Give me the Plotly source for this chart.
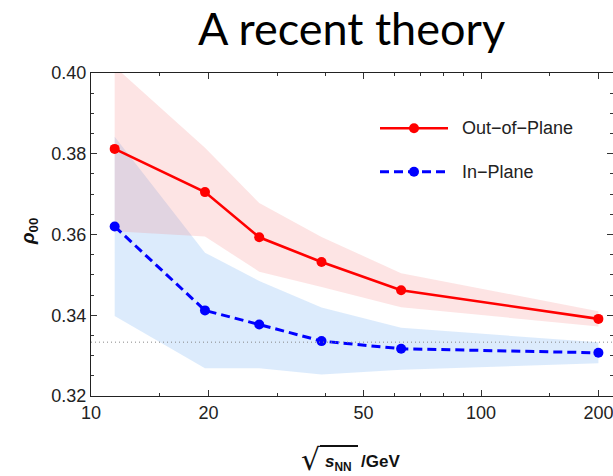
import plotly.graph_objects as go

# Collision energies (GeV)
energies = [11.5, 19.6, 27, 39, 62.4, 200]

# rho_00 predictions and band half-widths
out_of_plane = [0.3812, 0.3705, 0.3593, 0.3532, 0.3462, 0.3391]
out_of_plane_err = [0.0204, 0.0110, 0.0085, 0.0062, 0.0042, 0.0019]
in_plane = [0.3620, 0.3412, 0.3377, 0.3336, 0.3317, 0.3307]
in_plane_err = [0.0222, 0.0143, 0.0108, 0.0083, 0.0052, 0.0026]

x_tick_vals = [10, 20, 50, 100, 200]
x_tick_text = ["10", "20", "50", "100", "200"]
x_minor_vals = [15, 30, 40, 60, 70, 80, 90, 150]
y_tick_vals = [0.32, 0.34, 0.36, 0.38, 0.40]
y_tick_text = ["0.32", "0.34", "0.36", "0.38", "0.40"]
unpolarized = 1 / 3

RED = "#ff0000"
BLUE = "#0000ff"
RED_BAND = "rgba(245,120,120,0.2)"
BLUE_BAND = "rgba(140,190,245,0.3)"

W, H = 613, 476
ML, MR, MT, MB = 91, 0, 73, 80
PW, PH = W - ML - MR, H - MT - MB


def px(x):
    return (x - ML) / PW


def py(y):
    return (H - MB - y) / PH


def band(xs, ys, errs, color):
    upper = [v + e for v, e in zip(ys, errs)]
    lower = [v - e for v, e in zip(ys, errs)]
    return go.Scatter(
        x=xs + xs[::-1], y=upper + lower[::-1], fill="toself",
        fillcolor=color, line=dict(width=0), mode="lines",
        hoverinfo="skip", showlegend=False,
    )


fig = go.Figure()
fig.add_trace(band(energies, in_plane, in_plane_err, BLUE_BAND))
fig.add_trace(band(energies, out_of_plane, out_of_plane_err, RED_BAND))
fig.add_trace(go.Scatter(
    x=energies, y=out_of_plane, mode="lines+markers", name="Out−of−Plane",
    line=dict(color=RED, width=2.6), marker=dict(color=RED, size=10),
    showlegend=False,
))
fig.add_trace(go.Scatter(
    x=energies, y=in_plane, mode="lines+markers", name="In−Plane",
    line=dict(color=BLUE, width=3, dash="9px,5px"), marker=dict(color=BLUE, size=10),
    showlegend=False,
))

# horizontal reference at rho_00 = 1/3
fig.add_shape(type="line", xref="paper", x0=0, x1=1, yref="y",
              y0=unpolarized, y1=unpolarized,
              line=dict(color="#888888", width=1, dash="1px,3px"))

axis_font = dict(family="Liberation Sans, Arial, sans-serif", size=18, color="#222222")

fig.update_xaxes(
    type="log", range=[1, 1 + PW / 390],
    tickmode="array", tickvals=x_tick_vals, ticktext=x_tick_text,
    ticks="inside", ticklen=6, tickwidth=1, tickcolor="#333333",
    minor=dict(tickmode="array", tickvals=x_minor_vals, ticks="inside",
               ticklen=3, tickwidth=1, tickcolor="#333333"),
    showline=True, linecolor="#222222", linewidth=1.3, mirror="allticks",
    showgrid=False, zeroline=False, tickfont=axis_font,
    ticklabeloverflow="allow",
)
fig.update_yaxes(
    range=[0.32, 0.40],
    tickmode="array", tickvals=y_tick_vals, ticktext=y_tick_text,
    ticks="inside", ticklen=6, tickwidth=1, tickcolor="#333333",
    minor=dict(dtick=0.005, ticks="inside", ticklen=3, tickwidth=1,
               tickcolor="#333333"),
    showline=True, linecolor="#222222", linewidth=1.3, mirror="allticks",
    showgrid=False, zeroline=False, tickfont=axis_font,
)

# legend drawn as line samples with a marker and a label
legend_rows = [("Out−of−Plane", RED, "solid", 128.3), ("In−Plane", BLUE, "9px,5px", 171.7)]
for label, color, dash, yrow in legend_rows:
    fig.add_shape(type="line", xref="paper", yref="paper",
                  x0=px(380), x1=px(448), y0=py(yrow), y1=py(yrow),
                  line=dict(color=color, width=3 if dash != "solid" else 2.6, dash=dash))
    fig.add_shape(type="circle", xref="paper", yref="paper",
                  xsizemode="pixel", ysizemode="pixel",
                  xanchor=px(414), yanchor=py(yrow), x0=-5, x1=5, y0=-5, y1=5,
                  fillcolor=color, line=dict(width=0))
    fig.add_annotation(text=label, xref="paper", yref="paper",
                       x=px(460), y=py(yrow), xanchor="left", yanchor="middle",
                       showarrow=False,
                       font=dict(family="Liberation Sans, Arial, sans-serif", size=18,
                                 color="#222222"))

# title
fig.add_annotation(text="A recent theory", xref="paper", yref="paper",
                   x=px(351.5), y=py(28), xanchor="center", yanchor="middle",
                   showarrow=False, font=dict(family="Lato", size=45, color="#000000"))

# y-axis title
fig.add_annotation(text="<b><i>ρ</i><sub>00</sub></b>", xref="paper", yref="paper",
                   x=px(29), y=py(232), xanchor="center", yanchor="middle",
                   textangle=-90, showarrow=False,
                   font=dict(family="Liberation Sans, Arial, sans-serif", size=19,
                             color="#111111"))

# x-axis title: radical sign, its bar, and the text under it
fig.add_annotation(text="√", xref="paper", yref="paper",
                   x=px(311), y=py(459), xanchor="center", yanchor="middle",
                   showarrow=False,
                   font=dict(family="DejaVu Sans", size=30, color="#111111"))
fig.add_shape(type="line", xref="paper", yref="paper",
              x0=px(320), x1=px(358), y0=py(446), y1=py(446),
              line=dict(color="#111111", width=2))
fig.add_annotation(text="<b><i>s</i><sub>NN</sub>\u00a0\u00a0/GeV</b>", xref="paper", yref="paper",
                   x=px(323), y=py(463), xanchor="left", yanchor="middle",
                   showarrow=False,
                   font=dict(family="Liberation Sans, Arial, sans-serif", size=17,
                             color="#111111"))

fig.update_layout(
    width=W, height=H, margin=dict(l=ML, r=MR, t=MT, b=MB),
    plot_bgcolor="white", paper_bgcolor="white", showlegend=False,
)

fig.write_html("out.html")
